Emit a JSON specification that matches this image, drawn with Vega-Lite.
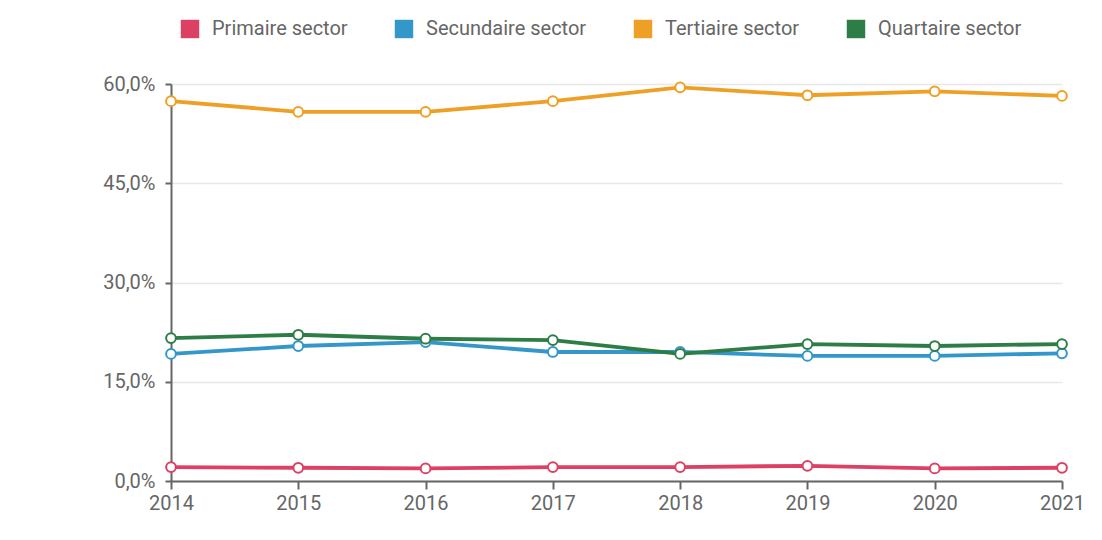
{
  "$schema": "https://vega.github.io/schema/vega-lite/v6.json",
  "autosize": "none",
  "width": 891,
  "height": 397,
  "padding": {"left": 171, "top": 84, "right": 40, "bottom": 59},
  "background": "white",
  "data": {
    "values": [
      {"jaar": "2014", "sector": "Primaire sector", "aandeel": 2.1},
      {"jaar": "2015", "sector": "Primaire sector", "aandeel": 2.0},
      {"jaar": "2016", "sector": "Primaire sector", "aandeel": 1.9},
      {"jaar": "2017", "sector": "Primaire sector", "aandeel": 2.1},
      {"jaar": "2018", "sector": "Primaire sector", "aandeel": 2.1},
      {"jaar": "2019", "sector": "Primaire sector", "aandeel": 2.3},
      {"jaar": "2020", "sector": "Primaire sector", "aandeel": 1.9},
      {"jaar": "2021", "sector": "Primaire sector", "aandeel": 2.0},
      {"jaar": "2014", "sector": "Secundaire sector", "aandeel": 19.2},
      {"jaar": "2015", "sector": "Secundaire sector", "aandeel": 20.4},
      {"jaar": "2016", "sector": "Secundaire sector", "aandeel": 21.0},
      {"jaar": "2017", "sector": "Secundaire sector", "aandeel": 19.5},
      {"jaar": "2018", "sector": "Secundaire sector", "aandeel": 19.5},
      {"jaar": "2019", "sector": "Secundaire sector", "aandeel": 18.9},
      {"jaar": "2020", "sector": "Secundaire sector", "aandeel": 18.9},
      {"jaar": "2021", "sector": "Secundaire sector", "aandeel": 19.3},
      {"jaar": "2014", "sector": "Tertiaire sector", "aandeel": 57.4},
      {"jaar": "2015", "sector": "Tertiaire sector", "aandeel": 55.8},
      {"jaar": "2016", "sector": "Tertiaire sector", "aandeel": 55.8},
      {"jaar": "2017", "sector": "Tertiaire sector", "aandeel": 57.4},
      {"jaar": "2018", "sector": "Tertiaire sector", "aandeel": 59.5},
      {"jaar": "2019", "sector": "Tertiaire sector", "aandeel": 58.3},
      {"jaar": "2020", "sector": "Tertiaire sector", "aandeel": 58.9},
      {"jaar": "2021", "sector": "Tertiaire sector", "aandeel": 58.2},
      {"jaar": "2014", "sector": "Quartaire sector", "aandeel": 21.6},
      {"jaar": "2015", "sector": "Quartaire sector", "aandeel": 22.1},
      {"jaar": "2016", "sector": "Quartaire sector", "aandeel": 21.5},
      {"jaar": "2017", "sector": "Quartaire sector", "aandeel": 21.3},
      {"jaar": "2018", "sector": "Quartaire sector", "aandeel": 19.2},
      {"jaar": "2019", "sector": "Quartaire sector", "aandeel": 20.7},
      {"jaar": "2020", "sector": "Quartaire sector", "aandeel": 20.4},
      {"jaar": "2021", "sector": "Quartaire sector", "aandeel": 20.7}
    ]
  },
  "encoding": {
    "x": {
      "field": "jaar",
      "type": "ordinal",
      "scale": {"type": "point", "padding": 0},
      "axis": {
        "title": null,
        "labelAngle": 0,
        "grid": false,
        "domainColor": "#666666",
        "domainWidth": 2,
        "tickColor": "#666666",
        "tickWidth": 2,
        "tickSize": 8,
        "labelPadding": 4,
        "labelFontSize": 20,
        "labelColor": "#666666"
      }
    },
    "y": {
      "field": "aandeel",
      "type": "quantitative",
      "scale": {"domain": [0, 60], "nice": false, "zero": true},
      "axis": {
        "title": null,
        "values": [0, 15, 30, 45, 60],
        "labelExpr": "replace(format(datum.value, '.1f'), '.', ',') + '%'",
        "grid": true,
        "gridColor": "#e8e8e8",
        "gridWidth": 1.5,
        "domainColor": "#666666",
        "domainWidth": 2,
        "tickColor": "#666666",
        "tickWidth": 2,
        "tickSize": 6,
        "labelPadding": 10,
        "labelFontSize": 20,
        "labelColor": "#666666"
      }
    },
    "color": {
      "field": "sector",
      "type": "nominal",
      "scale": {
        "domain": ["Primaire sector", "Secundaire sector", "Tertiaire sector", "Quartaire sector"],
        "range": ["#dc4163", "#3497c9", "#eea026", "#2e7d47"]
      },
      "legend": {
        "title": null,
        "orient": "none",
        "direction": "horizontal",
        "legendX": 9,
        "legendY": -65,
        "symbolType": "square",
        "symbolSize": 340,
        "symbolStrokeWidth": 0,
        "symbolOpacity": 1,
        "labelFontSize": 20,
        "labelColor": "#666666",
        "labelOffset": 12,
        "columnPadding": 46,
        "labelLimit": 300,
        "encode": {
          "symbols": {
            "update": {
              "fill": {"scale": "color", "field": "value"},
              "fillOpacity": {"value": 1},
              "strokeWidth": {"value": 0}
            }
          }
        }
      }
    }
  },
  "layer": [
    {"mark": {"type": "line", "strokeWidth": 3.8}},
    {"mark": {"type": "point", "filled": false, "fill": "white", "fillOpacity": 1, "opacity": 1, "size": 95, "strokeWidth": 2}}
  ],
  "config": {
    "font": "Roboto",
    "view": {"stroke": null}
  }
}
